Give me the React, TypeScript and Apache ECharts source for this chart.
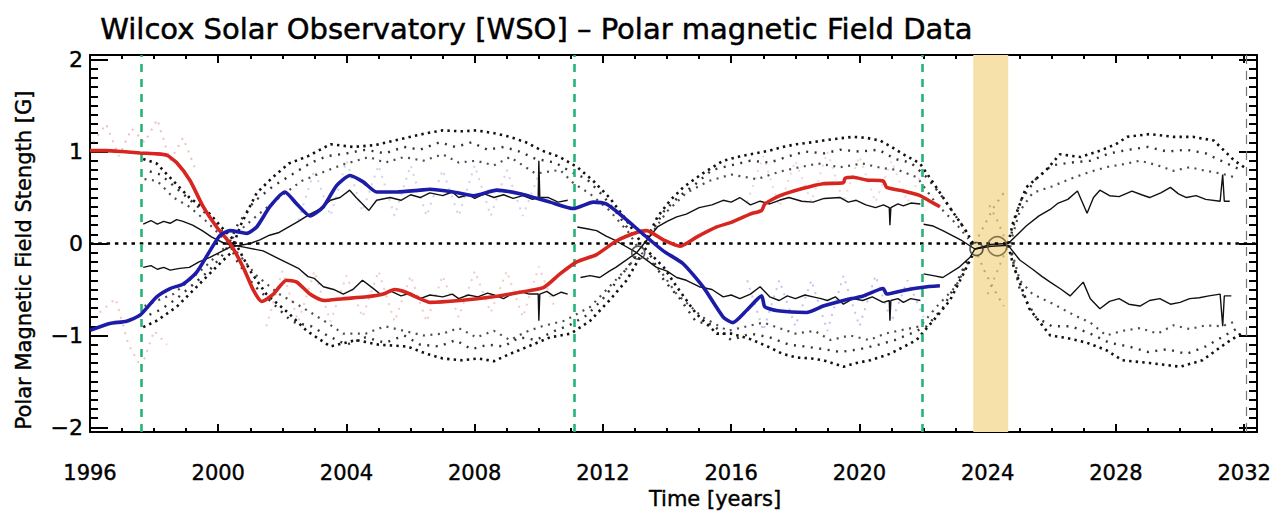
import React, { useEffect, useRef } from "react";
import * as echarts from "echarts";

// ---------- axes / ticks ----------
const xTickValues = [1996, 2000, 2004, 2008, 2012, 2016, 2020, 2024, 2028, 2032];
const yTickValues = [-2, -1, 0, 1, 2];
const yTickLabels = ["\u22122", "\u22121", "0", "1", "2"];
const X_MIN = 1996;
const X_MAX = 2032.4;
const Y_MIN = -2.05;
const Y_MAX = 2.05;

// ---------- markers ----------
const cycleMinimaLines = [1997.6, 2011.1, 2021.95];
const projectionEndLine = [2032.05];
const predictedMinimumBand = [2023.55, 2024.64];
const minimumCirclesSmall: number[][] = [[2013.1, -0.1], [2023.65, -0.06]];
const minimumCirclesLarge: number[][] = [[2024.3, -0.03]];

// ---------- main smoothed polar fields ----------
const northPole: number[][] = [
  [1996.0, 1.01], [1996.5, 1.01], [1997.0, 1.0], [1997.56, 0.985], [1998.08, 0.975], [1998.39, 0.96],
  [1998.7, 0.88], [1999.12, 0.685], [1999.53, 0.4], [1999.95, 0.18], [2000.37, 0.0], [2000.78, -0.26],
  [2001.1, -0.51], [2001.36, -0.63], [2001.72, -0.55], [2002.13, -0.4], [2002.45, -0.42], [2002.86, -0.55],
  [2003.28, -0.62], [2003.9, -0.6], [2004.63, -0.58], [2005.15, -0.55], [2005.5, -0.5], [2005.77, -0.52],
  [2006.29, -0.6], [2006.6, -0.64], [2007.54, -0.62], [2008.58, -0.58], [2009.41, -0.53], [2010.14, -0.48],
  [2010.66, -0.33], [2011.18, -0.2], [2011.8, -0.12], [2012.43, 0.03], [2013.05, 0.12], [2013.36, 0.14],
  [2013.88, 0.04], [2014.4, -0.03], [2014.92, 0.07], [2015.55, 0.18], [2016.0, 0.23], [2016.59, 0.32],
  [2016.95, 0.36], [2017.05, 0.43], [2017.52, 0.52], [2018.25, 0.6], [2018.87, 0.65], [2019.5, 0.66],
  [2019.55, 0.71], [2019.81, 0.72], [2020.22, 0.69], [2020.74, 0.68], [2020.85, 0.61], [2021.37, 0.57],
  [2021.89, 0.52], [2022.2, 0.46], [2022.51, 0.4],
];
const southPole: number[][] = [
  [1996.0, -0.945], [1996.62, -0.87], [1997.14, -0.845], [1997.56, -0.78], [1998.08, -0.58], [1998.5, -0.49],
  [1998.91, -0.44], [1999.33, -0.31], [1999.74, -0.08], [2000.06, 0.09], [2000.37, 0.14], [2000.89, 0.11],
  [2001.2, 0.18], [2001.61, 0.4], [2002.08, 0.56], [2002.45, 0.43], [2002.86, 0.3], [2003.28, 0.4],
  [2003.69, 0.63], [2004.11, 0.74], [2004.52, 0.67], [2004.94, 0.56], [2005.57, 0.56], [2006.29, 0.58],
  [2006.6, 0.59], [2007.33, 0.56], [2007.96, 0.52], [2008.69, 0.58], [2009.41, 0.54], [2010.35, 0.45],
  [2011.08, 0.38], [2011.7, 0.45], [2012.1, 0.43], [2012.63, 0.29], [2013.26, 0.1], [2013.88, -0.08],
  [2014.5, -0.22], [2015.13, -0.475], [2015.75, -0.8], [2016.05, -0.86], [2016.5, -0.72], [2016.95, -0.57],
  [2017.05, -0.69], [2017.52, -0.735], [2018.35, -0.75], [2018.87, -0.68], [2019.5, -0.62], [2020.12, -0.57],
  [2020.74, -0.49], [2020.85, -0.55], [2021.37, -0.51], [2021.99, -0.475], [2022.51, -0.46],
];

// ---------- thin black projection lines ----------
const thinA: number[][] = [
  [1997.66, 0.21], [1997.9, 0.25], [1998.1, 0.21], [1998.3, 0.24], [1998.5, 0.22], [1998.7, 0.26], [1998.9, 0.24],
  [1999.2, 0.2], [1999.5, 0.14], [1999.8, 0.07], [2000.2, 0.0], [2000.8, -0.04], [2001.4, -0.08],
  [2001.8, -0.15], [2002.2, -0.22], [2002.5, -0.27], [2002.8, -0.36], [2003.0, -0.38], [2003.28, -0.47],
  [2003.6, -0.5], [2003.9, -0.55], [2004.2, -0.5], [2004.5, -0.4], [2004.8, -0.48], [2005.05, -0.55],
  [2005.4, -0.52], [2005.7, -0.57], [2006.0, -0.54], [2006.3, -0.6], [2006.6, -0.56], [2007.0, -0.58],
  [2007.3, -0.55], [2007.5, -0.6], [2007.8, -0.56], [2008.1, -0.58], [2008.4, -0.54], [2008.6, -0.56],
  [2008.9, -0.6], [2009.1, -0.56], [2009.4, -0.52], [2009.7, -0.55], [2009.98, -0.55], [2010.0, -0.84],
  [2010.03, -0.55], [2010.25, -0.52], [2010.45, -0.57], [2010.7, -0.53], [2010.9, -0.55],
];
const thinB: number[][] = [
  [1997.66, -0.26], [1997.9, -0.24], [1998.1, -0.28], [1998.3, -0.26], [1998.5, -0.29], [1998.8, -0.27],
  [1999.1, -0.26], [1999.4, -0.2], [1999.74, -0.15], [2000.37, -0.04], [2001.0, 0.0], [2001.3, 0.04],
  [2001.6, 0.09], [2001.9, 0.12], [2002.2, 0.18], [2002.5, 0.24], [2002.86, 0.32], [2003.2, 0.38],
  [2003.5, 0.47], [2003.8, 0.5], [2004.1, 0.58], [2004.3, 0.5], [2004.7, 0.36], [2004.94, 0.47],
  [2005.36, 0.5], [2005.7, 0.47], [2006.0, 0.53], [2006.3, 0.5], [2006.6, 0.55], [2007.0, 0.52],
  [2007.3, 0.56], [2007.5, 0.5], [2007.8, 0.53], [2008.0, 0.49], [2008.3, 0.54], [2008.6, 0.5],
  [2008.9, 0.53], [2009.2, 0.49], [2009.5, 0.52], [2009.8, 0.48], [2009.98, 0.5], [2010.0, 0.9],
  [2010.03, 0.5], [2010.3, 0.5], [2010.6, 0.45], [2010.9, 0.47],
];
const thinC: number[][] = [
  [2011.2, 0.18], [2011.5, 0.16], [2011.8, 0.14], [2012.1, 0.08], [2012.4, 0.03], [2013.05, -0.1],
  [2013.67, -0.26], [2014.0, -0.3], [2014.3, -0.37], [2014.6, -0.4], [2015.0, -0.47], [2015.4, -0.5],
  [2015.75, -0.58], [2016.0, -0.56], [2016.27, -0.6], [2016.6, -0.55], [2016.9, -0.47], [2017.2, -0.58],
  [2017.5, -0.62], [2017.75, -0.57], [2018.0, -0.6], [2018.3, -0.56], [2018.55, -0.58], [2018.8, -0.6],
  [2019.0, -0.62], [2019.25, -0.58], [2019.5, -0.66], [2019.8, -0.6], [2020.1, -0.62], [2020.4, -0.58],
  [2020.74, -0.64], [2020.93, -0.62], [2020.95, -0.84], [2020.98, -0.62], [2021.2, -0.6], [2021.37, -0.64],
  [2021.6, -0.6], [2021.9, -0.62],
];
const thinD: number[][] = [
  [2011.3, -0.37], [2011.6, -0.35], [2011.9, -0.37], [2012.2, -0.3], [2012.4, -0.26], [2013.05, -0.1],
  [2013.7, 0.18], [2014.0, 0.24], [2014.3, 0.29], [2014.6, 0.32], [2015.0, 0.39], [2015.4, 0.42],
  [2015.75, 0.47], [2016.0, 0.45], [2016.27, 0.5], [2016.6, 0.42], [2016.9, 0.46], [2017.2, 0.43],
  [2017.5, 0.47], [2017.8, 0.5], [2018.2, 0.46], [2018.55, 0.45], [2018.9, 0.49], [2019.4, 0.5],
  [2019.65, 0.45], [2019.9, 0.47], [2020.2, 0.42], [2020.5, 0.39], [2020.75, 0.42], [2020.93, 0.39],
  [2020.95, 0.2], [2020.98, 0.39], [2021.2, 0.43], [2021.37, 0.41], [2021.6, 0.44], [2021.9, 0.43],
];
const thinE: number[][] = [
  [2022.0, 0.21], [2022.3, 0.19], [2022.6, 0.14], [2023.2, 0.03], [2023.6, -0.06], [2024.1, -0.03],
  [2024.64, -0.02], [2025.0, -0.18], [2025.4, -0.28], [2025.7, -0.36], [2025.95, -0.42], [2026.3, -0.5],
  [2026.57, -0.57], [2026.98, -0.42], [2027.2, -0.6], [2027.5, -0.71], [2027.8, -0.63], [2028.1, -0.6],
  [2028.4, -0.66], [2028.75, -0.68], [2029.05, -0.62], [2029.37, -0.6], [2029.7, -0.66], [2030.0, -0.64],
  [2030.3, -0.6], [2030.6, -0.59], [2030.9, -0.57], [2031.25, -0.55], [2031.33, -0.9], [2031.38, -0.57],
  [2031.6, -0.57],
];
const thinF: number[][] = [
  [2022.0, -0.33], [2022.3, -0.35], [2022.6, -0.37], [2023.1, -0.26], [2023.45, -0.15], [2023.6, -0.06],
  [2024.1, -0.01], [2024.64, 0.0], [2025.2, 0.19], [2025.6, 0.3], [2025.95, 0.37], [2026.2, 0.44],
  [2026.5, 0.48], [2026.8, 0.57], [2027.1, 0.33], [2027.3, 0.5], [2027.5, 0.58], [2027.8, 0.52],
  [2028.1, 0.51], [2028.5, 0.57], [2028.8, 0.53], [2029.05, 0.5], [2029.4, 0.55], [2029.7, 0.61],
  [2029.95, 0.54], [2030.2, 0.5], [2030.5, 0.52], [2030.8, 0.48], [2031.25, 0.46], [2031.33, 0.75],
  [2031.38, 0.46], [2031.55, 0.46],
];

// ---------- dotted raw-data envelopes (outer) ----------
const outerA: number[][] = [
  [1997.66, 0.92], [1998.08, 0.87], [1998.6, 0.68], [1999.1, 0.5], [1999.64, 0.36], [2000.2, 0.14],
  [2000.5, 0.03], [2001.0, -0.3], [2001.5, -0.55], [2002.2, -0.76], [2002.76, -0.95], [2003.5, -1.12],
  [2004.3, -1.05], [2005.0, -1.1], [2005.9, -1.12], [2006.5, -1.2], [2007.0, -1.25], [2007.6, -1.27],
  [2008.1, -1.25], [2008.6, -1.28], [2009.1, -1.2], [2009.6, -1.13], [2010.35, -1.02], [2011.0, -0.98],
  [2011.6, -0.84], [2012.2, -0.62], [2012.74, -0.4], [2013.15, -0.15],
];
const outerB: number[][] = [
  [1997.66, -0.91], [1998.08, -0.84], [1998.7, -0.69], [1999.33, -0.47], [1999.84, -0.29], [2000.37, -0.11],
  [2000.7, 0.2], [2001.2, 0.55], [2001.7, 0.72], [2002.2, 0.87], [2002.8, 0.95], [2003.5, 1.08],
  [2004.2, 1.05], [2004.9, 1.07], [2005.5, 1.12], [2006.0, 1.16], [2006.5, 1.2], [2007.0, 1.23],
  [2007.6, 1.22], [2008.05, 1.23], [2008.6, 1.2], [2009.1, 1.16], [2009.6, 1.1], [2010.1, 1.01],
  [2010.66, 0.94], [2011.2, 0.83], [2011.7, 0.68], [2012.2, 0.5], [2012.74, 0.25], [2013.15, 0.03],
];
const outerC: number[][] = [
  [2013.3, 0.0], [2013.7, 0.29], [2014.1, 0.47], [2014.5, 0.61], [2015.1, 0.76], [2015.75, 0.9],
  [2016.3, 0.95], [2016.6, 0.97], [2017.2, 1.01], [2017.6, 1.05], [2018.04, 1.08], [2018.5, 1.1],
  [2018.87, 1.12], [2019.3, 1.14], [2019.8, 1.16], [2020.2, 1.15], [2020.64, 1.12], [2021.0, 1.05],
  [2021.37, 0.97], [2021.89, 0.87], [2022.4, 0.61], [2022.82, 0.39], [2023.24, 0.18], [2023.55, 0.0],
];
const outerD: number[][] = [
  [2013.3, -0.05], [2013.9, -0.26], [2014.3, -0.47], [2014.9, -0.76], [2015.55, -0.98], [2016.0, -0.98],
  [2016.6, -1.04], [2017.2, -1.13], [2017.6, -1.2], [2018.04, -1.24], [2018.5, -1.25], [2018.87, -1.27],
  [2019.5, -1.34], [2019.9, -1.3], [2020.33, -1.27], [2020.95, -1.2], [2021.4, -1.12], [2021.78, -1.05],
  [2022.3, -0.84], [2022.82, -0.62], [2023.24, -0.33], [2023.55, -0.11],
];
const outerE: number[][] = [
  [2024.64, 0.0], [2024.8, 0.24], [2025.2, 0.61], [2025.8, 0.79], [2026.25, 0.97], [2026.9, 0.94],
  [2027.5, 1.01], [2028.0, 1.08], [2028.35, 1.16], [2029.05, 1.19], [2029.8, 1.16], [2030.4, 1.16],
  [2031.05, 1.12], [2031.7, 0.9], [2032.0, 0.83],
];
const outerF: number[][] = [
  [2024.64, -0.02], [2024.8, -0.24], [2025.3, -0.71], [2025.95, -1.0], [2026.5, -1.03], [2027.1, -1.08],
  [2027.7, -1.16], [2028.2, -1.27], [2029.05, -1.3], [2030.0, -1.34], [2030.7, -1.27], [2031.45, -1.08],
  [2031.9, -0.98],
];

// ---------- dotted raw-data bands (middle) ----------
const midA: number[][] = [
  [1997.7, 0.8], [1998.2, 0.75], [1998.7, 0.6], [1999.2, 0.45], [1999.7, 0.3], [2000.2, 0.1], [2000.6, -0.2],
  [2001.1, -0.45], [2001.7, -0.65], [2002.3, -0.85], [2002.9, -0.9], [2003.4, -1.0], [2004.0, -1.1],
  [2004.6, -1.02], [2005.2, -1.08], [2005.8, -1.0], [2006.3, -1.1], [2006.9, -1.12], [2007.4, -1.05],
  [2007.9, -1.15], [2008.4, -1.1], [2008.9, -1.12], [2009.4, -1.02], [2009.9, -1.05], [2010.5, -0.95],
  [2011.0, -0.88], [2011.5, -0.78], [2012.0, -0.6], [2012.5, -0.38], [2013.0, -0.15],
];
const midB: number[][] = [
  [1997.7, -0.8], [1998.2, -0.72], [1998.7, -0.6], [1999.2, -0.45], [1999.7, -0.3], [2000.2, -0.1],
  [2000.6, 0.2], [2001.1, 0.45], [2001.7, 0.62], [2002.3, 0.75], [2002.9, 0.88], [2003.4, 0.95], [2004.0, 0.98],
  [2004.6, 1.02], [2005.2, 0.98], [2005.8, 1.05], [2006.3, 1.02], [2006.9, 1.1], [2007.4, 1.05], [2007.9, 1.1],
  [2008.4, 1.02], [2008.9, 1.05], [2009.4, 1.0], [2009.9, 0.92], [2010.5, 0.88], [2011.0, 0.78], [2011.5, 0.7],
  [2012.0, 0.52], [2012.5, 0.3], [2013.0, 0.05],
];
const midC: number[][] = [
  [2013.4, 0.05], [2013.9, 0.35], [2014.4, 0.52], [2014.9, 0.65], [2015.4, 0.8], [2016.0, 0.85], [2016.6, 0.9],
  [2017.2, 0.88], [2017.8, 0.95], [2018.3, 1.0], [2018.9, 0.98], [2019.4, 1.02], [2020.0, 1.0], [2020.6, 1.02],
  [2021.1, 0.92], [2021.6, 0.88], [2022.1, 0.72], [2022.6, 0.5], [2023.0, 0.3], [2023.4, 0.1],
];
const midD: number[][] = [
  [2013.4, -0.08], [2013.9, -0.4], [2014.4, -0.6], [2014.9, -0.85], [2015.4, -0.88], [2016.0, -1.05],
  [2016.6, -0.98], [2017.2, -1.02], [2017.8, -1.1], [2018.3, -1.12], [2018.9, -1.15], [2019.4, -1.18],
  [2020.0, -1.15], [2020.6, -1.1], [2021.1, -1.05], [2021.6, -0.98], [2022.1, -0.9], [2022.6, -0.7],
  [2023.0, -0.45], [2023.4, -0.15],
];
const midE: number[][] = [
  [2024.7, 0.05], [2025.0, 0.45], [2025.5, 0.7], [2026.0, 0.85], [2026.6, 0.88], [2027.2, 0.9], [2027.8, 0.98],
  [2028.4, 1.02], [2029.0, 1.05], [2029.6, 1.0], [2030.2, 1.02], [2030.8, 0.98], [2031.4, 0.88], [2031.9, 0.8],
];
const midF: number[][] = [
  [2024.7, -0.05], [2025.0, -0.5], [2025.5, -0.8], [2026.0, -0.9], [2026.6, -0.9], [2027.2, -0.98],
  [2027.8, -1.08], [2028.4, -1.12], [2029.0, -1.18], [2029.6, -1.15], [2030.2, -1.2], [2030.8, -1.12],
  [2031.4, -1.0], [2031.9, -0.9],
];

// ---------- dotted raw-data bands (inner) ----------
const innerA: number[][] = [
  [1997.7, 0.7], [1998.1, 0.68], [1998.6, 0.5], [1999.1, 0.4], [1999.6, 0.25], [2000.1, 0.08], [2000.6, -0.1],
  [2001.2, -0.35], [2001.9, -0.55], [2002.6, -0.69], [2003.3, -0.84], [2003.9, -0.98], [2004.6, -0.98],
  [2005.2, -0.9], [2005.8, -0.95], [2006.4, -1.0], [2007.0, -0.98], [2007.5, -0.92], [2008.05, -1.02],
  [2008.6, -0.95], [2009.1, -1.05], [2009.6, -0.96], [2010.1, -0.9], [2010.8, -0.84], [2011.6, -0.69],
  [2012.2, -0.47], [2012.8, -0.25], [2013.1, -0.1],
];
const innerB: number[][] = [
  [1997.7, -0.68], [1998.1, -0.62], [1998.6, -0.55], [1999.1, -0.4], [1999.6, -0.25], [2000.1, -0.08],
  [2000.6, 0.12], [2001.2, 0.3], [2001.9, 0.5], [2002.6, 0.68], [2003.3, 0.78], [2003.9, 0.86], [2004.7, 0.94],
  [2005.2, 0.88], [2005.8, 0.94], [2006.4, 0.9], [2007.0, 0.97], [2007.5, 0.88], [2008.05, 0.9], [2008.6, 0.85],
  [2009.1, 0.94], [2009.9, 0.76], [2010.66, 0.8], [2011.1, 0.65], [2011.6, 0.54], [2012.2, 0.36],
  [2012.8, 0.12], [2013.1, -0.05],
];
const innerC: number[][] = [
  [2013.2, -0.05], [2013.6, 0.15], [2014.0, 0.35], [2014.6, 0.55], [2015.3, 0.68], [2016.0, 0.75], [2016.8, 0.7],
  [2017.5, 0.78], [2018.0, 0.82], [2018.7, 0.87], [2019.4, 0.83], [2020.1, 0.87], [2020.7, 0.82], [2021.2, 0.8],
  [2021.8, 0.72], [2022.4, 0.43], [2023.0, 0.22], [2023.4, 0.05],
];
const innerD: number[][] = [
  [2013.2, -0.1], [2013.8, -0.3], [2014.3, -0.55], [2015.1, -0.8], [2015.9, -0.95], [2016.5, -0.9],
  [2017.0, -0.86], [2017.5, -0.92], [2018.0, -0.98], [2018.6, -0.95], [2019.1, -1.05], [2019.7, -1.0],
  [2020.3, -1.05], [2020.8, -0.98], [2021.2, -0.95], [2021.9, -0.9], [2022.4, -0.69], [2023.0, -0.47],
  [2023.4, -0.2],
];
const innerE: number[][] = [
  [2024.7, 0.0], [2025.0, 0.35], [2025.4, 0.55], [2026.0, 0.62], [2026.7, 0.72], [2027.2, 0.78], [2027.7, 0.83],
  [2028.2, 0.86], [2028.75, 0.9], [2029.3, 0.85], [2029.8, 0.79], [2030.3, 0.83], [2030.8, 0.79],
  [2031.3, 0.76], [2031.7, 0.72],
];
const innerF: number[][] = [
  [2024.7, -0.02], [2025.0, -0.4], [2025.4, -0.55], [2026.0, -0.65], [2026.7, -0.78], [2027.2, -0.86],
  [2027.7, -1.0], [2028.2, -0.95], [2028.75, -0.92], [2029.3, -0.98], [2029.8, -0.89], [2030.3, -0.93],
  [2030.8, -0.89], [2031.3, -0.9], [2031.7, -0.85],
];

// ---------- faint coloured raw points ----------
const northRawEarly: number[][] = [
  [1996.1, 1.1], [1996.5, 1.3], [1996.9, 0.95], [1997.3, 1.25], [1997.7, 1.1], [1998.1, 1.35], [1998.5, 0.9],
  [1998.9, 1.15], [1999.3, 0.8],
];
const southRawEarly: number[][] = [
  [1996.3, -0.75], [1996.8, -0.6], [1997.2, -1.1], [1997.6, -1.35], [1998.0, -0.95], [1998.4, -1.1],
];
const northRawC23: number[][] = [
  [2001.5, -0.9], [2002.0, -0.3], [2002.5, -0.85], [2003.0, -0.3], [2003.5, -0.85], [2004.0, -0.35],
  [2004.5, -0.8], [2005.0, -0.3], [2005.5, -0.85], [2006.0, -0.35], [2006.5, -0.85], [2007.0, -0.35],
  [2007.5, -0.8], [2008.0, -0.3], [2008.5, -0.75], [2009.0, -0.3], [2009.5, -0.8], [2010.0, -0.25],
  [2010.5, -0.7],
];
const southRawC23: number[][] = [
  [2002.5, 0.25], [2003.0, 0.8], [2003.5, 0.3], [2004.0, 0.9], [2004.5, 0.35], [2005.0, 0.85], [2005.5, 0.3],
  [2006.0, 0.85], [2006.5, 0.3], [2007.0, 0.8], [2007.5, 0.3], [2008.0, 0.85], [2008.5, 0.3], [2009.0, 0.8],
  [2009.5, 0.3], [2010.0, 0.75],
];
const southRawC24: number[][] = [
  [2016.5, -0.4], [2017.0, -0.95], [2017.5, -0.4], [2018.0, -0.9], [2018.5, -0.4], [2019.0, -0.95],
  [2019.5, -0.35], [2020.0, -0.9], [2020.5, -0.35], [2021.0, -0.85], [2021.5, -0.4], [2022.0, -0.8],
];
const northRawC24: number[][] = [
  [2016.5, 0.45], [2017.0, 0.95], [2017.5, 0.4], [2018.0, 0.9], [2018.5, 0.45], [2019.0, 1.0],
  [2019.5, 0.45], [2020.0, 0.95], [2020.5, 0.45], [2021.0, 0.9], [2021.5, 0.45], [2022.0, 0.8],
];
const bandRawUp: number[][] = [[2023.6, 0.0], [2023.9, 0.2], [2024.2, 0.4], [2024.5, 0.55]];
const bandRawDown: number[][] = [[2023.6, -0.05], [2023.9, -0.3], [2024.2, -0.5], [2024.5, -0.68]];
const bandRawUp2: number[][] = [[2024.6, 0.0], [2024.3, 0.25], [2024.0, 0.45]];
const bandRawDown2: number[][] = [[2024.6, -0.05], [2024.3, -0.3], [2024.0, -0.55]];

const FONT = "'DejaVu Sans', 'Liberation Sans', sans-serif";

function buildYMinorTicks(): number[] {
  const out: number[] = [];
  for (let i = -20; i <= 20; i++) out.push(i / 10);
  return out;
}

function lineSeries(data: number[][], color: string, width: number, dash: any, opacity = 1, z = 3, dashOffset = 0): any {
  return {
    type: "line",
    data,
    symbol: "none",
    showSymbol: false,
    silent: true,
    z,
    lineStyle: { color, width, type: dash, opacity, cap: "butt", dashOffset },
  };
}

export default function App() {
  const ref = useRef<HTMLDivElement>(null);

  useEffect(() => {
    document.body.style.margin = "0";
    if (!ref.current) return;
    const chart = echarts.init(ref.current, null, { renderer: "svg" });
    const yMinor = buildYMinorTicks();
    const axisLineStyle = { color: "#000", width: 2 };

    const outerDash = [2.4, 4.2];
    const midDash = [2, 6.5];
    const innerDash = [2, 5.5];
    const rawDash = [2, 6];

    const option: any = {
      animation: false,
      backgroundColor: "#fff",
      grid: { left: 90, right: 20, top: 55, bottom: 82 },
      graphic: [
        {
          type: "text",
          left: 100,
          top: 14,
          style: {
            text: "Wilcox Solar Observatory [WSO] \u2013 Polar magnetic Field Data",
            font: `29px ${FONT}`,
            fill: "#000",
            stroke: "#000",
            lineWidth: 0.5,
          },
        },
        {
          type: "text",
          x: 24,
          y: 260,
          rotation: Math.PI / 2,
          style: {
            text: "Polar Magnetic Field Stength [G]",
            font: `21px ${FONT}`,
            fill: "#000",
            stroke: "#000",
            lineWidth: 0.4,
            align: "center",
            verticalAlign: "middle",
          },
        },
        {
          type: "text",
          x: 715,
          y: 499,
          style: {
            text: "Time [years]",
            font: `21px ${FONT}`,
            fill: "#000",
            stroke: "#000",
            lineWidth: 0.4,
            align: "center",
            verticalAlign: "middle",
          },
        },
      ],
      xAxis: [
        {
          type: "value",
          position: "bottom",
          min: X_MIN,
          max: X_MAX,
          interval: 4,
          axisLine: { show: true, onZero: false, lineStyle: axisLineStyle },
          axisTick: { show: true, inside: true, length: 8, lineStyle: { color: "#000", width: 2 } },
          minorTick: { show: true, splitNumber: 4, length: 4, lineStyle: { color: "#000", width: 2 } },
          axisLabel: {
            show: true,
            margin: 30,
            fontSize: 21,
            fontFamily: FONT,
            color: "#000",
            textBorderColor: "#000",
            textBorderWidth: 0.4,
            formatter: (v: number) => (xTickValues.indexOf(v) >= 0 ? String(v) : ""),
          },
          splitLine: { show: false },
        },
        {
          type: "value",
          position: "top",
          min: X_MIN,
          max: X_MAX,
          interval: 4,
          axisLine: { show: true, onZero: false, lineStyle: axisLineStyle },
          axisTick: { show: true, inside: true, length: 8, lineStyle: { color: "#000", width: 2 } },
          minorTick: { show: true, splitNumber: 4, length: 4, lineStyle: { color: "#000", width: 2 } },
          axisLabel: { show: false },
          splitLine: { show: false },
        },
      ],
      yAxis: [
        {
          type: "value",
          position: "left",
          min: Y_MIN,
          max: Y_MAX,
          axisLine: { show: true, onZero: false, lineStyle: axisLineStyle },
          axisTick: { show: true, inside: true, length: 8, customValues: yMinor, lineStyle: { color: "#000", width: 2 } },
          axisLabel: {
            show: true,
            customValues: yTickValues,
            margin: 7,
            fontSize: 22,
            fontFamily: FONT,
            color: "#000",
            textBorderColor: "#000",
            textBorderWidth: 0.4,
            formatter: (v: number) => {
              const i = yTickValues.indexOf(Math.round(v));
              return i >= 0 ? yTickLabels[i] : "";
            },
          },
          splitLine: { show: false },
        },
        {
          type: "value",
          position: "left",
          min: Y_MIN,
          max: Y_MAX,
          axisLine: { show: false, onZero: false },
          axisTick: { show: true, inside: true, length: 18, customValues: yTickValues, lineStyle: { color: "#000", width: 2 } },
          axisLabel: { show: false },
          splitLine: { show: false },
        },
        {
          type: "value",
          position: "right",
          min: Y_MIN,
          max: Y_MAX,
          axisLine: { show: true, onZero: false, lineStyle: axisLineStyle },
          axisTick: { show: true, inside: true, length: 8, customValues: yMinor, lineStyle: { color: "#000", width: 2 } },
          axisLabel: { show: false },
          splitLine: { show: false },
        },
        {
          type: "value",
          position: "right",
          min: Y_MIN,
          max: Y_MAX,
          axisLine: { show: false, onZero: false },
          axisTick: { show: true, inside: true, length: 18, customValues: yTickValues, lineStyle: { color: "#000", width: 2 } },
          axisLabel: { show: false },
          splitLine: { show: false },
        },
      ],
      series: [
        // yellow predicted-minimum band
        {
          type: "line",
          data: [[X_MIN, 0]],
          symbol: "none",
          silent: true,
          z: 0,
          lineStyle: { opacity: 0 },
          markArea: {
            silent: true,
            itemStyle: { color: "#f7e1ab" },
            data: [[{ xAxis: predictedMinimumBand[0] }, { xAxis: predictedMinimumBand[1] }]],
          },
        },
        // faint coloured raw data
        lineSeries(northRawEarly, "#e48a8a", 2, rawDash, 0.55, 2),
        lineSeries(southRawEarly, "#e48a8a", 2, rawDash, 0.5, 2),
        lineSeries(northRawC23, "#e08a8a", 2, rawDash, 0.45, 2),
        lineSeries(southRawC23, "#9a9ad8", 2, rawDash, 0.45, 2),
        lineSeries(southRawC24, "#8a8ade", 2, rawDash, 0.5, 2),
        lineSeries(northRawC24, "#d89a9a", 2, rawDash, 0.4, 2),
        lineSeries(bandRawUp, "#a8894a", 2, rawDash, 0.7, 2),
        lineSeries(bandRawDown, "#a8894a", 2, rawDash, 0.7, 2),
        lineSeries(bandRawUp2, "#a8894a", 2, rawDash, 0.6, 2),
        lineSeries(bandRawDown2, "#a8894a", 2, rawDash, 0.6, 2),
        // inner dotted bands
        lineSeries(innerA, "#222", 2.2, innerDash, 0.8),
        lineSeries(innerB, "#222", 2.2, innerDash, 0.8),
        lineSeries(innerC, "#222", 2.2, innerDash, 0.8),
        lineSeries(innerD, "#222", 2.2, innerDash, 0.8),
        lineSeries(innerE, "#222", 2.2, innerDash, 0.8),
        lineSeries(innerF, "#222", 2.2, innerDash, 0.8),
        // middle dotted bands
        lineSeries(midA, "#111", 2.4, midDash, 0.85, 3, 3),
        lineSeries(midB, "#111", 2.4, midDash, 0.85, 3, 3),
        lineSeries(midC, "#111", 2.4, midDash, 0.85, 3, 3),
        lineSeries(midD, "#111", 2.4, midDash, 0.85, 3, 3),
        lineSeries(midE, "#111", 2.4, midDash, 0.85, 3, 3),
        lineSeries(midF, "#111", 2.4, midDash, 0.85, 3, 3),
        // outer dotted envelopes
        lineSeries(outerA, "#111", 2.6, outerDash),
        lineSeries(outerB, "#111", 2.6, outerDash),
        lineSeries(outerC, "#111", 2.6, outerDash),
        lineSeries(outerD, "#111", 2.6, outerDash),
        lineSeries(outerE, "#111", 2.6, outerDash),
        lineSeries(outerF, "#111", 2.6, outerDash),
        // thin black lines
        lineSeries(thinA, "#111", 1.4, "solid"),
        lineSeries(thinB, "#111", 1.4, "solid"),
        lineSeries(thinC, "#111", 1.4, "solid"),
        lineSeries(thinD, "#111", 1.4, "solid"),
        lineSeries(thinE, "#111", 1.4, "solid"),
        lineSeries(thinF, "#111", 1.4, "solid"),
        // zero line + vertical markers
        {
          type: "line",
          data: [[X_MIN, 0], [X_MAX, 0]],
          symbol: "none",
          silent: true,
          z: 4,
          lineStyle: { color: "#000", width: 2.6, type: [3.5, 4.8] },
          markLine: {
            silent: true,
            symbol: ["none", "none"],
            label: { show: false },
            data: [
              ...cycleMinimaLines.map((x) => ({
                xAxis: x,
                lineStyle: { color: "#27b377", width: 2.6, type: [8, 7] },
              })),
              ...projectionEndLine.map((x) => ({
                xAxis: x,
                lineStyle: { color: "#777", width: 1.2, type: [9, 7] },
              })),
            ],
          },
        },
        // circles at minima
        {
          type: "scatter",
          data: minimumCirclesSmall,
          symbol: "circle",
          symbolSize: 13,
          silent: true,
          z: 4,
          itemStyle: { color: "rgba(0,0,0,0)", borderColor: "#333", borderWidth: 1.6 },
        },
        {
          type: "scatter",
          data: minimumCirclesLarge,
          symbol: "circle",
          symbolSize: 19,
          silent: true,
          z: 4,
          itemStyle: { color: "rgba(0,0,0,0)", borderColor: "#6a5a3a", borderWidth: 1.6 },
        },
        // main smoothed curves
        {
          type: "line",
          name: "North",
          data: northPole,
          symbol: "none",
          smooth: 0.2,
          silent: true,
          z: 6,
          lineStyle: { color: "#d6261f", width: 3.6 },
        },
        {
          type: "line",
          name: "South",
          data: southPole,
          symbol: "none",
          smooth: 0.2,
          silent: true,
          z: 6,
          lineStyle: { color: "#1c1ca8", width: 3.6 },
        },
      ],
    };

    chart.setOption(option);
    return () => chart.dispose();
  }, []);

  return <div ref={ref} style={{ width: 1277, height: 514 }} />;
}
